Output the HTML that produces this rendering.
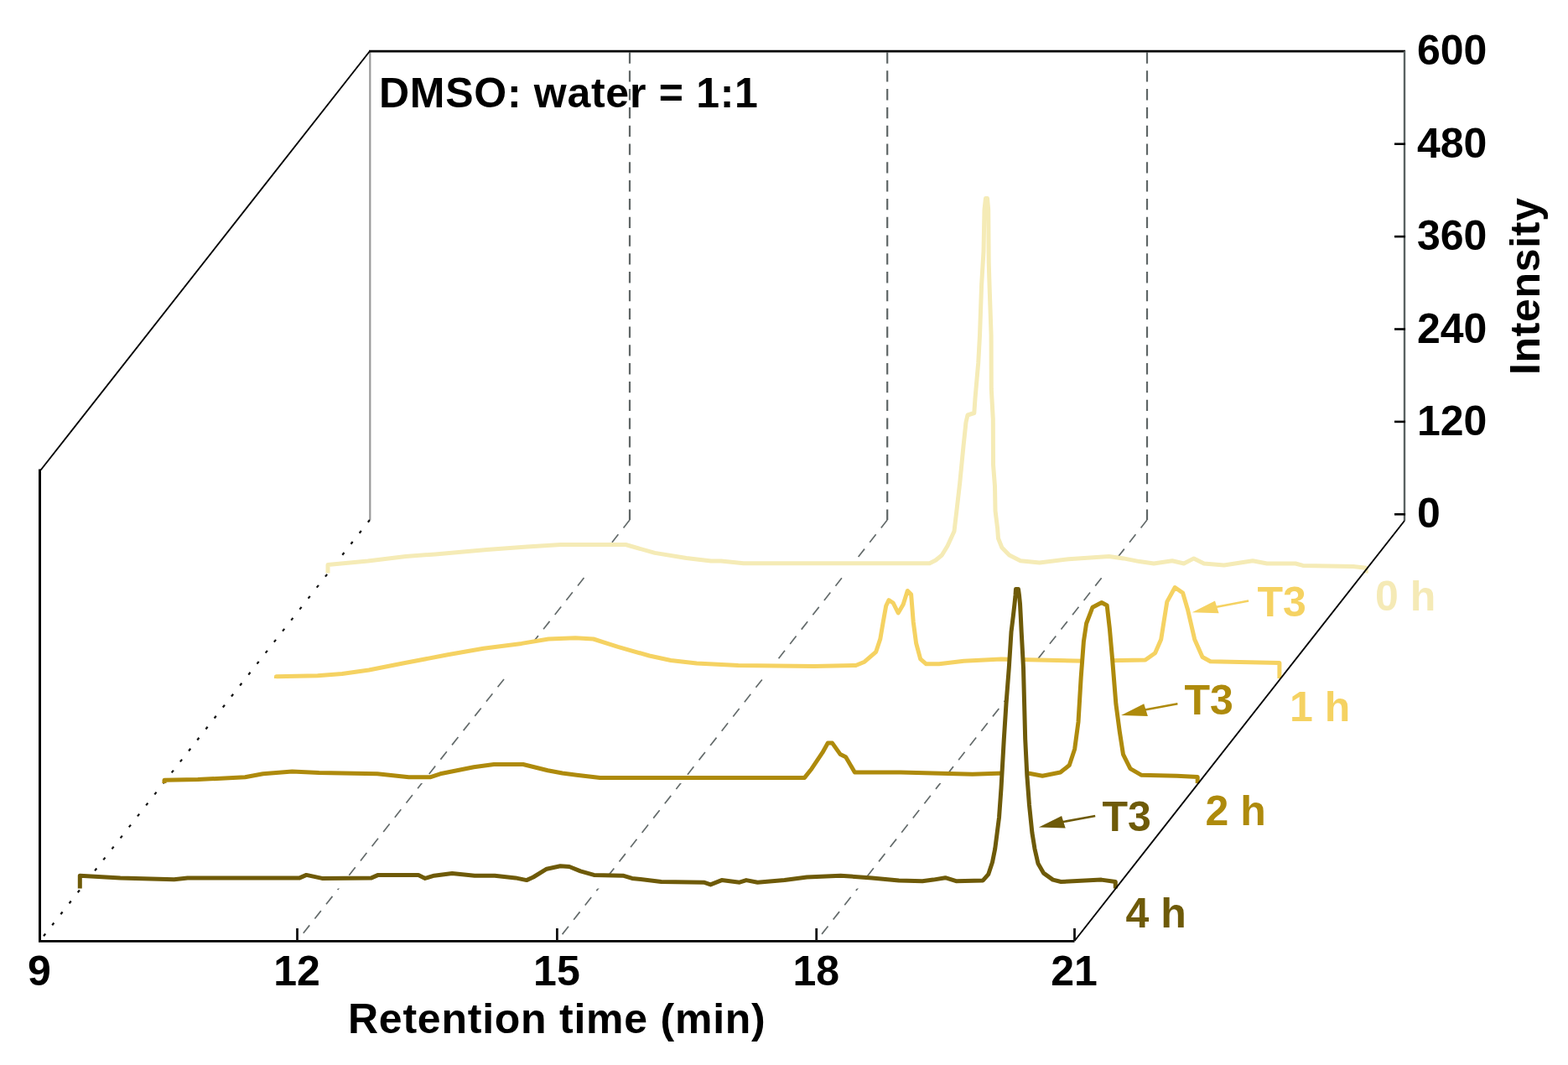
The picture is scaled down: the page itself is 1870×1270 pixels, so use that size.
<!DOCTYPE html>
<html><head><meta charset="utf-8"><title>Chromatogram</title>
<style>html,body{margin:0;padding:0;background:#fff;}svg{display:block;}</style>
</head><body>
<svg width="1870" height="1270" viewBox="0 0 1870 1270">
<rect width="100%" height="100%" fill="#fff"/>
<line x1="441.3" y1="61" x2="441.3" y2="620" stroke="#9a9a9a" stroke-width="2.2"/>
<line x1="751.0" y1="62.5" x2="751.0" y2="620" stroke="#5f6666" stroke-width="2.2" stroke-dasharray="13.3 8.5"/>
<line x1="751.0" y1="620" x2="354.5" y2="1122.0" stroke="#646b6b" stroke-width="1.7" stroke-dasharray="12 10"/>
<line x1="1058.2" y1="62.5" x2="1058.2" y2="620" stroke="#5f6666" stroke-width="2.2" stroke-dasharray="13.3 8.5"/>
<line x1="1058.2" y1="620" x2="664.4" y2="1122.0" stroke="#646b6b" stroke-width="1.7" stroke-dasharray="12 10"/>
<line x1="1368.0" y1="62.5" x2="1368.0" y2="620" stroke="#5f6666" stroke-width="2.2" stroke-dasharray="13.3 8.5"/>
<line x1="1368.0" y1="620" x2="973.7" y2="1122.0" stroke="#646b6b" stroke-width="1.7" stroke-dasharray="12 10"/>
<line x1="441" y1="620" x2="47.5" y2="1122" stroke="#111" stroke-width="2.2" stroke-dasharray="3.5 13"/>
<polygon points="391.0,683.6 391.0,673.5 438.8,669.0 484.0,663.4 519.0,661.0 580.5,655.6 628.7,652.0 668.8,649.5 746.3,649.5 781.0,659.4 818.5,665.5 848.0,669.0 860.0,669.0 886.7,671.7 1108.7,671.7 1116.0,668.0 1123.3,662.0 1130.0,651.0 1138.0,633.5 1141.4,604.8 1144.7,576.0 1149.0,532.0 1152.0,503.5 1154.0,495.0 1161.8,492.5 1163.0,474.9 1166.7,433.0 1168.5,400.0 1170.6,340.0 1173.0,300.0 1174.0,250.0 1175.5,236.5 1177.5,236.5 1178.7,250.0 1179.2,313.0 1180.2,345.0 1182.1,400.0 1182.3,464.0 1184.3,500.0 1184.5,554.0 1186.5,580.0 1187.0,609.0 1189.6,630.0 1190.5,642.0 1194.9,653.0 1203.7,662.0 1217.0,668.7 1239.7,671.0 1274.4,666.8 1322.6,663.6 1340.0,665.9 1358.8,669.6 1376.0,672.0 1398.0,668.8 1411.9,672.0 1423.8,665.9 1435.8,672.0 1459.8,674.0 1494.0,668.8 1511.0,672.0 1545.0,672.0 1553.9,674.4 1613.8,675.6 1629.2,677.3 1629.2,683.6" fill="#fff" stroke="none"/>
<polyline points="391.0,683.6 391.0,673.5 438.8,669.0 484.0,663.4 519.0,661.0 580.5,655.6 628.7,652.0 668.8,649.5 746.3,649.5 781.0,659.4 818.5,665.5 848.0,669.0 860.0,669.0 886.7,671.7 1108.7,671.7 1116.0,668.0 1123.3,662.0 1130.0,651.0 1138.0,633.5 1141.4,604.8 1144.7,576.0 1149.0,532.0 1152.0,503.5 1154.0,495.0 1161.8,492.5 1163.0,474.9 1166.7,433.0 1168.5,400.0 1170.6,340.0 1173.0,300.0 1174.0,250.0 1175.5,236.5 1177.5,236.5 1178.7,250.0 1179.2,313.0 1180.2,345.0 1182.1,400.0 1182.3,464.0 1184.3,500.0 1184.5,554.0 1186.5,580.0 1187.0,609.0 1189.6,630.0 1190.5,642.0 1194.9,653.0 1203.7,662.0 1217.0,668.7 1239.7,671.0 1274.4,666.8 1322.6,663.6 1340.0,665.9 1358.8,669.6 1376.0,672.0 1398.0,668.8 1411.9,672.0 1423.8,665.9 1435.8,672.0 1459.8,674.0 1494.0,668.8 1511.0,672.0 1545.0,672.0 1553.9,674.4 1613.8,675.6 1629.2,677.3 1629.2,683.6" fill="none" stroke="#f5ebb6" stroke-width="5" stroke-linejoin="round" stroke-linecap="butt"/>

<polygon points="329.4,808.9 329.4,806.7 378.8,805.7 408.0,803.5 440.0,799.0 480.4,791.0 534.0,780.8 576.7,773.3 622.0,767.4 654.2,762.0 686.3,760.7 707.7,762.0 737.0,771.4 774.5,782.0 800.0,787.5 830.8,791.0 880.4,793.5 971.0,794.4 1020.7,793.5 1031.0,789.2 1044.7,777.3 1049.8,761.9 1053.3,741.3 1056.7,722.5 1060.0,715.7 1065.2,719.0 1071.2,731.0 1077.2,720.8 1082.3,704.5 1086.6,708.8 1089.2,741.3 1092.6,767.0 1097.7,785.8 1104.6,791.8 1120.0,791.8 1149.4,788.2 1194.0,785.9 1293.0,788.2 1365.9,787.0 1377.6,778.8 1384.7,762.4 1391.8,717.6 1401.2,700.5 1410.6,707.0 1416.5,727.0 1424.7,762.4 1434.0,783.5 1443.5,788.7 1525.9,790.6 1525.9,808.9" fill="#fff" stroke="none"/>
<polyline points="329.4,808.9 329.4,806.7 378.8,805.7 408.0,803.5 440.0,799.0 480.4,791.0 534.0,780.8 576.7,773.3 622.0,767.4 654.2,762.0 686.3,760.7 707.7,762.0 737.0,771.4 774.5,782.0 800.0,787.5 830.8,791.0 880.4,793.5 971.0,794.4 1020.7,793.5 1031.0,789.2 1044.7,777.3 1049.8,761.9 1053.3,741.3 1056.7,722.5 1060.0,715.7 1065.2,719.0 1071.2,731.0 1077.2,720.8 1082.3,704.5 1086.6,708.8 1089.2,741.3 1092.6,767.0 1097.7,785.8 1104.6,791.8 1120.0,791.8 1149.4,788.2 1194.0,785.9 1293.0,788.2 1365.9,787.0 1377.6,778.8 1384.7,762.4 1391.8,717.6 1401.2,700.5 1410.6,707.0 1416.5,727.0 1424.7,762.4 1434.0,783.5 1443.5,788.7 1525.9,790.6 1525.9,808.9" fill="none" stroke="#f5d262" stroke-width="5" stroke-linejoin="round" stroke-linecap="butt"/>

<polygon points="196.0,934.1 196.0,930.3 236.0,929.5 292.3,926.8 313.7,922.8 348.4,920.0 380.5,921.4 450.0,922.8 487.5,926.8 512.9,926.8 525.0,922.8 565.0,914.8 589.0,911.5 623.9,911.5 653.3,918.8 670.7,922.0 687.8,924.2 715.6,927.4 959.5,927.4 968.0,916.7 980.9,897.4 987.3,886.1 992.6,886.1 1002.2,899.6 1008.7,902.8 1019.4,921.0 1053.6,921.0 1074.0,921.0 1159.8,923.2 1197.2,922.0 1226.0,922.0 1243.2,925.3 1264.6,921.0 1275.3,912.5 1281.7,893.2 1286.0,861.0 1289.2,807.6 1292.4,764.9 1295.6,743.5 1303.0,724.2 1313.8,718.5 1320.2,722.0 1323.4,749.9 1326.6,786.3 1330.9,839.7 1335.2,871.8 1339.5,899.6 1348.0,916.7 1360.9,924.2 1403.6,925.3 1428.2,926.4 1428.2,934.1" fill="#fff" stroke="none"/>
<polyline points="196.0,934.1 196.0,930.3 236.0,929.5 292.3,926.8 313.7,922.8 348.4,920.0 380.5,921.4 450.0,922.8 487.5,926.8 512.9,926.8 525.0,922.8 565.0,914.8 589.0,911.5 623.9,911.5 653.3,918.8 670.7,922.0 687.8,924.2 715.6,927.4 959.5,927.4 968.0,916.7 980.9,897.4 987.3,886.1 992.6,886.1 1002.2,899.6 1008.7,902.8 1019.4,921.0 1053.6,921.0 1074.0,921.0 1159.8,923.2 1197.2,922.0 1226.0,922.0 1243.2,925.3 1264.6,921.0 1275.3,912.5 1281.7,893.2 1286.0,861.0 1289.2,807.6 1292.4,764.9 1295.6,743.5 1303.0,724.2 1313.8,718.5 1320.2,722.0 1323.4,749.9 1326.6,786.3 1330.9,839.7 1335.2,871.8 1339.5,899.6 1348.0,916.7 1360.9,924.2 1403.6,925.3 1428.2,926.4 1428.2,934.1" fill="none" stroke="#ae8a0c" stroke-width="5" stroke-linejoin="round" stroke-linecap="butt"/>

<polygon points="95.3,1059.4 95.3,1044.2 143.5,1046.9 207.6,1048.8 223.7,1046.9 357.4,1046.9 365.4,1043.4 384.0,1047.4 443.0,1046.9 451.0,1043.4 499.0,1043.4 507.0,1047.4 517.8,1044.2 539.2,1041.6 566.0,1044.2 590.0,1044.2 614.8,1046.9 628.0,1049.6 636.0,1046.0 652.0,1036.2 668.2,1032.7 679.0,1033.5 692.3,1038.9 708.3,1043.4 743.0,1044.2 753.8,1047.4 788.6,1051.4 839.4,1052.2 847.4,1054.9 860.7,1049.6 882.0,1052.2 890.0,1049.6 903.5,1052.2 935.6,1049.6 962.3,1046.0 1002.5,1044.2 1039.9,1046.9 1072.0,1050.1 1100.1,1050.7 1113.0,1049.1 1127.4,1046.7 1140.2,1050.7 1172.3,1049.9 1178.7,1042.7 1183.5,1028.2 1186.7,1012.2 1189.2,993.0 1191.5,975.0 1194.0,940.0 1197.3,881.5 1200.0,839.0 1203.3,796.4 1206.0,753.8 1208.3,735.0 1210.0,720.0 1211.0,710.0 1211.5,702.5 1214.5,702.5 1215.5,710.0 1216.5,720.0 1217.3,735.0 1218.2,753.8 1220.5,796.4 1221.6,839.0 1222.7,881.5 1224.8,924.0 1227.5,960.0 1230.9,993.0 1234.0,1012.2 1238.0,1029.8 1244.5,1041.1 1255.7,1049.1 1265.4,1051.5 1313.5,1049.1 1330.3,1051.5 1330.3,1059.4" fill="#fff" stroke="none"/>
<polyline points="95.3,1059.4 95.3,1044.2 143.5,1046.9 207.6,1048.8 223.7,1046.9 357.4,1046.9 365.4,1043.4 384.0,1047.4 443.0,1046.9 451.0,1043.4 499.0,1043.4 507.0,1047.4 517.8,1044.2 539.2,1041.6 566.0,1044.2 590.0,1044.2 614.8,1046.9 628.0,1049.6 636.0,1046.0 652.0,1036.2 668.2,1032.7 679.0,1033.5 692.3,1038.9 708.3,1043.4 743.0,1044.2 753.8,1047.4 788.6,1051.4 839.4,1052.2 847.4,1054.9 860.7,1049.6 882.0,1052.2 890.0,1049.6 903.5,1052.2 935.6,1049.6 962.3,1046.0 1002.5,1044.2 1039.9,1046.9 1072.0,1050.1 1100.1,1050.7 1113.0,1049.1 1127.4,1046.7 1140.2,1050.7 1172.3,1049.9 1178.7,1042.7 1183.5,1028.2 1186.7,1012.2 1189.2,993.0 1191.5,975.0 1194.0,940.0 1197.3,881.5 1200.0,839.0 1203.3,796.4 1206.0,753.8 1208.3,735.0 1210.0,720.0 1211.0,710.0 1211.5,702.5 1214.5,702.5 1215.5,710.0 1216.5,720.0 1217.3,735.0 1218.2,753.8 1220.5,796.4 1221.6,839.0 1222.7,881.5 1224.8,924.0 1227.5,960.0 1230.9,993.0 1234.0,1012.2 1238.0,1029.8 1244.5,1041.1 1255.7,1049.1 1265.4,1051.5 1313.5,1049.1 1330.3,1051.5 1330.3,1059.4" fill="none" stroke="#6e5a08" stroke-width="5" stroke-linejoin="round" stroke-linecap="butt"/>

<polyline points="441,61 48.6,560.5" fill="none" stroke="#000" stroke-width="1.9"/>
<polyline points="47.5,1122 47.5,559.5" fill="none" stroke="#000" stroke-width="3"/>
<polyline points="440,61.2 1676,61.2" fill="none" stroke="#000" stroke-width="2.8"/>
<line x1="1675" y1="61" x2="1675" y2="621" stroke="#5a6262" stroke-width="2.4"/>
<polyline points="46,1122.3 1281.5,1122.3" fill="none" stroke="#000" stroke-width="2.7"/>
<polyline points="1281.5,1122 1675,621" fill="none" stroke="#000" stroke-width="1.9"/>
<line x1="1663" y1="171.7" x2="1676" y2="171.7" stroke="#000" stroke-width="2.6"/>
<line x1="1663" y1="282.1" x2="1676" y2="282.1" stroke="#000" stroke-width="2.6"/>
<line x1="1663" y1="392.5" x2="1676" y2="392.5" stroke="#000" stroke-width="2.6"/>
<line x1="1663" y1="502.9" x2="1676" y2="502.9" stroke="#000" stroke-width="2.6"/>
<line x1="1663" y1="613.3" x2="1676" y2="613.3" stroke="#000" stroke-width="2.6"/>
<line x1="354.5" y1="1107" x2="354.5" y2="1122" stroke="#111" stroke-width="2.8"/>
<line x1="664.4" y1="1107" x2="664.4" y2="1122" stroke="#111" stroke-width="2.8"/>
<line x1="973.7" y1="1107" x2="973.7" y2="1122" stroke="#111" stroke-width="2.8"/>
<line x1="1281.5" y1="1107" x2="1281.5" y2="1122" stroke="#111" stroke-width="2.8"/>
<line x1="1441.8" y1="725.4" x2="1489.1" y2="716.6" stroke="#f5d262" stroke-width="2.5"/>
<polygon points="1421.8,730.2 1449.0,716.6 1453.6,731.2" fill="#f5d262"/>

<line x1="1357.1" y1="848.1" x2="1404.4" y2="839.3" stroke="#ae8a0c" stroke-width="2.5"/>
<polygon points="1337.1,852.9 1364.3,839.3 1368.9,853.9" fill="#ae8a0c"/>

<line x1="1258.9" y1="981.7" x2="1306.2" y2="972.9" stroke="#6e5a08" stroke-width="2.5"/>
<polygon points="1238.9,986.5 1266.1,972.9 1270.7,987.5" fill="#6e5a08"/>

<text x="452" y="127.8" font-family="Liberation Sans, Arial, sans-serif" font-weight="bold" font-size="50" fill="#000" text-anchor="start" letter-spacing="0.72">DMSO: water = 1:1</text>
<text x="1690" y="77.4" font-family="Liberation Sans, Arial, sans-serif" font-weight="bold" font-size="50" fill="#000" text-anchor="start" >600</text>
<text x="1690" y="187.8" font-family="Liberation Sans, Arial, sans-serif" font-weight="bold" font-size="50" fill="#000" text-anchor="start" >480</text>
<text x="1690" y="298.2" font-family="Liberation Sans, Arial, sans-serif" font-weight="bold" font-size="50" fill="#000" text-anchor="start" >360</text>
<text x="1690" y="408.6" font-family="Liberation Sans, Arial, sans-serif" font-weight="bold" font-size="50" fill="#000" text-anchor="start" >240</text>
<text x="1690" y="519.0" font-family="Liberation Sans, Arial, sans-serif" font-weight="bold" font-size="50" fill="#000" text-anchor="start" >120</text>
<text x="1690" y="629.4" font-family="Liberation Sans, Arial, sans-serif" font-weight="bold" font-size="50" fill="#000" text-anchor="start" >0</text>
<text x="1836" y="447" font-family="Liberation Sans, Arial, sans-serif" font-weight="bold" font-size="50" fill="#000" text-anchor="start" letter-spacing="0.67" transform="rotate(-90 1836 447)">Intensity</text>
<text x="47.0" y="1174.5" font-family="Liberation Sans, Arial, sans-serif" font-weight="bold" font-size="50" fill="#000" text-anchor="middle" >9</text>
<text x="354.0" y="1174.5" font-family="Liberation Sans, Arial, sans-serif" font-weight="bold" font-size="50" fill="#000" text-anchor="middle" >12</text>
<text x="663.9" y="1174.5" font-family="Liberation Sans, Arial, sans-serif" font-weight="bold" font-size="50" fill="#000" text-anchor="middle" >15</text>
<text x="973.2" y="1174.5" font-family="Liberation Sans, Arial, sans-serif" font-weight="bold" font-size="50" fill="#000" text-anchor="middle" >18</text>
<text x="1281.0" y="1174.5" font-family="Liberation Sans, Arial, sans-serif" font-weight="bold" font-size="50" fill="#000" text-anchor="middle" >21</text>
<text x="415" y="1232" font-family="Liberation Sans, Arial, sans-serif" font-weight="bold" font-size="50" fill="#000" text-anchor="start" letter-spacing="0.76">Retention time (min)</text>
<text x="1640" y="728" font-family="Liberation Sans, Arial, sans-serif" font-weight="bold" font-size="50" fill="#f5eab6" text-anchor="start" >0 h</text>
<text x="1538" y="859.5" font-family="Liberation Sans, Arial, sans-serif" font-weight="bold" font-size="50" fill="#f5d262" text-anchor="start" >1 h</text>
<text x="1437.5" y="983.5" font-family="Liberation Sans, Arial, sans-serif" font-weight="bold" font-size="50" fill="#ae8a0c" text-anchor="start" >2 h</text>
<text x="1342.5" y="1106" font-family="Liberation Sans, Arial, sans-serif" font-weight="bold" font-size="50" fill="#6e5a08" text-anchor="start" >4 h</text>
<text x="1499.5" y="734.8" font-family="Liberation Sans, Arial, sans-serif" font-weight="bold" font-size="50" fill="#f5d262" text-anchor="start" >T3</text>
<text x="1412.5" y="852" font-family="Liberation Sans, Arial, sans-serif" font-weight="bold" font-size="50" fill="#ae8a0c" text-anchor="start" >T3</text>
<text x="1314.5" y="991" font-family="Liberation Sans, Arial, sans-serif" font-weight="bold" font-size="50" fill="#6e5a08" text-anchor="start" >T3</text>
</svg>
</body></html>
